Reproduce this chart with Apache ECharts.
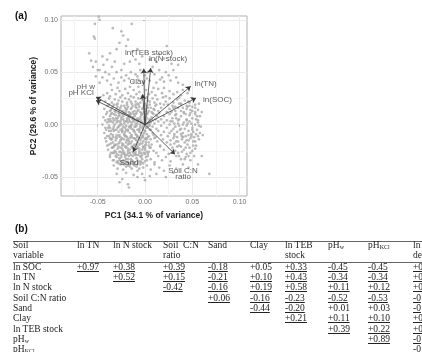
<!DOCTYPE html>
<html>
<head>
<meta charset="utf-8">
<script src="https://cdn.jsdelivr.net/npm/echarts@6/dist/echarts.min.js"></script>
<style>
  body { margin: 0; width: 422px; height: 352px; overflow: hidden; background: #fff; position: relative; }
  #chart { position: absolute; left: 0; top: 0; width: 422px; height: 220px; }
  #tbl { position: absolute; left: 0; top: 220px; width: 422px; height: 132px; overflow: hidden;
         font-family: 'Liberation Serif', 'Times New Roman', serif; font-size: 9.5px; color: #222; }
  .c { position: absolute; white-space: nowrap; line-height: 10px; }
  .u { text-decoration: underline; }
  .rule { position: absolute; left: 13px; width: 420px; height: 0; border-top: 1px solid #666; }
  .tag { position: absolute; font: bold 10px 'Liberation Sans', Arial, sans-serif; color: #111; }
  sub { font-size: 6px; vertical-align: -1px; line-height: 0; }
</style>
</head>
<body>
<div id="chart"></div>
<div id="tbl"></div>
<script>
// PC scores, in units of 0.001
const pcScores = [
  [-49,103],[-48,100],[-53,96],[-14,96],[-34,92],[-25,89],[-23,85],[-18,81],[-54,84],[-53,82],[-27,78],[-20,75],
  [-59,68],[-37,68],[-57,61],[-44,57],[23,75],[-8,72],[-13,70],[-30,72],[15,67],[-3,65],[-45,65],[-40,62],
  [-10,62],[-52,60],[-32,60],[5,62],[12,60],[-6,58],[20,63],[28,58],[35,57],[-48,52],[-55,55],[-35,55],[-22,58],[-16,60],
  [-50,52],[-42,50],[-38,48],[-30,50],[-25,52],[-20,47],[-15,50],[-10,48],[-5,52],[0,47],[3,50],[8,55],[10,48],
  [15,52],[18,45],[22,50],[25,47],[30,52],[33,45],[-45,45],[-40,42],[-33,44],[-28,40],[-22,42],[-17,44],[-12,41],
  [-7,43],[-2,40],[5,42],[12,40],[20,41],[27,42],[35,40],[40,38],[-48,40],[-36,38],[-25,45],[-8,46],[2,44],[16,43],[-52,46],
  [-40,30],[-35,33],[-31,29],[-27,32],[-24,28],[-21,34],[-18,30],[-15,27],[-12,33],[-9,29],[-6,31],[-3,27],[1,33],
  [4,29],[7,31],[11,28],[14,34],[18,30],[22,27],[26,32],[30,29],[34,31],[38,28],[-44,28],[-37,27],[-29,35],[-16,36],
  [-7,36],[9,35],[20,35],[40,33],[45,30],
  [-42,22],[-38,25],[-35,21],[-32,24],[-29,20],[-26,26],[-24,22],[-21,25],[-19,21],[-17,24],[-14,20],[-12,26],[-10,22],
  [-7,25],[-5,21],[-3,24],[0,20],[2,26],[5,22],[8,25],[10,21],[13,24],[16,20],[19,26],[22,22],[26,25],[30,21],[34,24],
  [38,20],[42,23],[47,21],[50,25],[53,19],[-28,23],[-15,22],[-8,20],[3,23],[12,19],[24,19],[36,26],[44,18],
  [-43,15],[-40,18],[-37,13],[-35,16],[-33,19],[-31,12],[-29,17],[-27,14],[-25,18],[-23,13],[-21,16],[-19,19],[-17,12],
  [-15,15],[-13,18],[-11,13],[-9,16],[-7,19],[-5,12],[-3,15],[-1,18],[1,13],[3,16],[5,19],[7,12],[9,15],[11,18],[14,13],
  [17,16],[20,19],[23,12],[26,15],[29,18],[32,13],[35,16],[38,19],[41,12],[44,15],[47,18],[50,13],[53,16],[56,14],
  [-20,14],[-10,17],[0,15],[10,14],[30,16],[45,17],
  [-44,7],[-41,10],[-39,5],[-37,8],[-35,11],[-33,4],[-31,9],[-29,6],[-27,11],[-25,5],[-23,8],[-21,10],[-19,4],[-17,7],
  [-15,10],[-13,5],[-11,8],[-9,11],[-7,4],[-5,7],[-3,10],[-1,5],[1,8],[3,11],[5,4],[7,7],[9,10],[11,5],[13,8],[15,11],
  [17,5],[20,8],[23,4],[26,10],[29,6],[32,9],[35,4],[38,8],[41,11],[44,5],[47,9],[50,6],[53,10],[56,4],[58,8],[-28,8],
  [-18,9],[-8,6],[2,6],[12,9],[33,6],[48,11],
  [-45,0],[-42,-3],[-40,2],[-38,-1],[-36,3],[-34,-4],[-32,0],[-30,2],[-28,-2],[-26,1],[-24,-4],[-22,3],[-20,-1],[-18,2],
  [-16,-3],[-14,0],[-12,3],[-10,-2],[-8,1],[-6,-4],[-4,2],[-2,-1],[0,3],[2,-3],[4,0],[6,2],[8,-2],[10,1],[12,-4],[14,3],
  [17,-1],[20,2],[23,-3],[26,0],[29,3],[32,-2],[35,1],[38,-4],[41,2],[44,-1],[47,3],[50,-3],[53,0],[56,2],[59,-2],
  [-25,0],[-15,-1],[-5,0],[5,-1],[36,-1],[45,1],
  [-43,-8],[-40,-11],[-38,-6],[-36,-9],[-34,-12],[-32,-5],[-30,-10],[-28,-7],[-26,-12],[-24,-6],[-22,-9],[-20,-11],
  [-18,-5],[-16,-8],[-14,-12],[-12,-6],[-10,-9],[-8,-11],[-6,-5],[-4,-8],[-2,-12],[0,-6],[2,-9],[4,-11],[6,-5],[8,-8],
  [11,-12],[14,-6],[17,-10],[20,-7],[24,-11],[28,-6],[31,-9],[34,-12],[37,-5],[40,-8],[43,-11],[46,-6],[49,-9],[52,-12],
  [55,-5],[58,-8],[-21,-7],[-11,-7],[-1,-8],[9,-10],[39,-11],[51,-7],
  [-41,-16],[-38,-19],[-36,-14],[-34,-17],[-32,-20],[-30,-13],[-28,-18],[-26,-15],[-24,-20],[-22,-14],[-20,-17],
  [-18,-19],[-16,-13],[-14,-16],[-12,-20],[-10,-14],[-8,-17],[-6,-19],[-4,-13],[-2,-16],[0,-20],[2,-14],[4,-17],
  [7,-19],[10,-13],[13,-16],[16,-20],[19,-14],[23,-17],[27,-19],[30,-13],[33,-16],[36,-20],[39,-14],[42,-17],[45,-19],
  [48,-13],[51,-16],[54,-20],[57,-14],[-19,-15],[-9,-15],[1,-17],[31,-18],[46,-15],
  [-39,-24],[-36,-27],[-34,-22],[-32,-25],[-30,-28],[-28,-21],[-26,-26],[-24,-23],[-22,-28],[-20,-22],[-18,-25],
  [-16,-27],[-14,-21],[-12,-24],[-10,-28],[-8,-22],[-6,-25],[-4,-27],[-2,-21],[0,-24],[3,-28],[6,-22],[9,-25],[12,-27],
  [16,-21],[20,-24],[25,-28],[29,-22],[32,-25],[35,-27],[38,-21],[41,-24],[44,-28],[47,-22],[50,-25],[53,-23],
  [-23,-25],[-13,-26],[-3,-24],
  [-37,-31],[-34,-34],[-31,-30],[-29,-35],[-27,-32],[-25,-29],[-23,-34],[-21,-31],[-19,-36],[-17,-30],[-15,-33],
  [-13,-35],[-11,-29],[-9,-32],[-7,-36],[-5,-30],[-3,-33],[0,-35],[3,-30],[6,-33],[10,-36],[14,-30],[18,-34],[22,-31],
  [27,-35],[33,-30],[38,-33],[43,-31],[48,-34],[52,-30],[-20,-33],[-8,-34],[1,-31],
  [-33,-39],[-29,-42],[-26,-38],[-23,-43],[-20,-40],[-17,-37],[-14,-42],[-11,-39],[-8,-44],[-5,-38],[-2,-41],[2,-39],
  [6,-43],[10,-38],[15,-41],[20,-44],[26,-39],[33,-42],[40,-38],[46,-41],[-16,-40],[-6,-42],
  [-30,-47],[-24,-52],[-27,-55],[-18,-57],[-17,-60],[-12,-48],[-20,-46],[-8,-50],[-3,-47],[5,-49],[0,-53],[12,-47],
  [22,-50],[30,-46],[68,-47],[56,-38],[60,-30],[57,20],[60,12],[61,-10],
  [-36,14],[-33,10],[-30,15],[-27,9],[-24,13],[-22,11],[-19,15],[-16,9],[-13,12],[-10,10],[-7,14],[-4,9],[-1,12],[2,10],
  [-37,5],[-34,2],[-31,6],[-28,3],[-25,7],[-22,1],[-19,6],[-16,3],[-13,7],[-10,1],[-7,5],[-4,3],[-1,7],[2,1],[5,5],
  [-39,-3],[-36,-6],[-33,-2],[-30,-5],[-27,-1],[-24,-7],[-21,-3],[-18,-6],[-15,-2],[-12,-5],[-9,-1],[-6,-7],[-3,-3],
  [0,-6],[3,-2],
  [-37,-13],[-34,-10],[-31,-15],[-28,-11],[-25,-14],[-22,-10],[-19,-12],[-17,-16],[-14,-10],[-11,-13],[-8,-12],
  [-5,-15],[-2,-10],[1,-13],
  [-35,-22],[-32,-19],[-29,-23],[-27,-17],[-24,-18],[-21,-21],[-18,-23],[-15,-18],[-12,-22],[-9,-19],[-6,-23],
  [-3,-18],[0,-22],[4,-20],
  [-33,-27],[-30,-31],[-27,-26],[-25,-31],[-22,-27],[-19,-29],[-16,-24],[-13,-30],[-10,-26],[-7,-29],[-4,-31],
  [-1,-27],[2,-26],
  [-28,-37],[-25,-35],[-22,-38],[-18,-39],[-15,-37],[-12,-38],[-9,-40],[-4,-36],
  [-38,19],[-34,17],[-30,19],[-26,16],[-22,18],[-18,17],[-14,16],[-10,19],[-6,17],[-2,16],[2,18],[6,16],
  [-40,12],[-36,10],[-32,13],[-28,11],[-24,10],[-20,12],[-16,11],[-12,10],[-8,13],[-4,11],[0,10],[4,13],[8,11],
  [-42,4],[-38,3],[-34,6],[-30,4],[-26,3],[-23,5],[-20,3],[-17,5],[-14,2],[-11,4],[-8,3],[-5,5],[-2,2],[1,4],[4,2],[8,4],
  [-41,-5],[-37,-3],[-33,-6],[-29,-3],[-26,-5],[-23,-2],[-20,-5],[-17,-2],[-14,-4],[-11,-2],[-8,-5],[-5,-2],[-2,-5],
  [1,-3],[5,-5],
  [-42,-13],[-38,-11],[-35,-14],[-31,-12],[-27,-10],[-24,-13],[-21,-11],[-18,-14],[-15,-11],[-12,-13],[-9,-10],
  [-6,-13],[-3,-11],[0,-14],[3,-12],[6,-14],
  [-40,-20],[-36,-18],[-33,-21],[-30,-19],[-26,-22],[-23,-19],[-20,-21],[-17,-18],[-14,-22],[-11,-19],[-8,-21],
  [-5,-18],[-2,-22],[1,-19],[5,-22],
  [-37,-29],[-34,-27],[-31,-26],[-28,-29],[-24,-27],[-21,-29],[-18,-27],[-15,-29],[-12,-27],[-9,-29],[-6,-27],
  [-3,-29],[0,-28],[4,-26],
  [-33,-34],[-30,-36],[-27,-34],[-24,-37],[-21,-35],[-18,-33],[-14,-34],[-11,-36],[-8,-38],[-5,-35],[-2,-37],[2,-34],
  [28,12],[33,10],[38,13],[43,10],[48,14],[53,12],[27,3],[31,1],[36,5],[40,0],[44,4],[49,1],[54,5],[57,-1],
  [26,-8],[30,-4],[34,-7],[38,-9],[42,-4],[46,-10],[50,-5],[54,-9],[27,-15],[31,-11],[35,-16],[40,-12],[44,-15],
  [49,-11],[53,-16],[56,-11],[29,-25],[34,-21],[39,-26],[43,-22],[48,-27],[51,-20],[36,-30],[42,-33],[46,-30],
  [32,17],[40,16],[50,17],[55,8],[46,22],[36,20]
];

// variable loadings (arrow tips) and label anchors, units of 0.001
const loadingNames = ['ln(TEB stock)', 'ln(N stock)', 'Clay', 'ln(TN)', 'ln(SOC)', 'pH w', 'pH KCl', 'Sand', 'Soil C:N\nratio'];
const loadingX = [-1.3, 6.0, -2.5, 48.3, 53.9, -51.8, -51.8, -12.4, 31.7];
const loadingY = [53.4, 54.0, 29.0, 36.5, 25.4, 26.3, 23.0, -26.0, -28.3];
const labelX = [4.2, 24.3, -7.9, 64.0, 76.6, -62.4, -67.6, -16.9, 40.2];
const labelY = [68.5, 62.3, 40.4, 39.4, 24.1, 36.5, 30.8, -36.0, -47.0];

const xTicks = [-0.05, 0, 0.05, 0.10];
const yTicks = [-0.05, 0, 0.05, 0.10];
const xMinor = [-0.075, -0.025, 0.025, 0.075];
const yMinor = [-0.025, 0.025, 0.075];

// correlation table
const colHeads = ['Soil<br>variable', 'ln TN', 'ln N stock', 'Soil&nbsp;&nbsp;C:N<br>ratio', 'Sand', 'Clay',
                  'ln TEB<br>stock', 'pH<sub>w</sub>', 'pH<sub>KCl</sub>', 'ln<br>de'];
const rowHeads = ['ln SOC', 'ln TN', 'ln N stock', 'Soil C:N ratio', 'Sand', 'Clay', 'ln TEB stock',
                  'pH<sub>w</sub>', 'pH<sub>KCl</sub>'];
const corrRows = [
  ['+0.97', '+0.38', '+0.39', '-0.18', '+0.05', '+0.33', '-0.45', '-0.45', '+0'],
  ['', '+0.52', '+0.15', '-0.21', '+0.10', '+0.43', '-0.34', '-0.34', '+0'],
  ['', '', '-0.42', '-0.16', '+0.19', '+0.58', '+0.11', '+0.12', '+0'],
  ['', '', '', '+0.06', '-0.16', '-0.23', '-0.52', '-0.53', '-0'],
  ['', '', '', '', '-0.44', '-0.20', '+0.01', '+0.03', '-0'],
  ['', '', '', '', '', '+0.21', '+0.11', '+0.10', '+0'],
  ['', '', '', '', '', '', '+0.39', '+0.22', '+0'],
  ['', '', '', '', '', '', '', '+0.89', '-0'],
  ['', '', '', '', '', '', '', '', '-0']
];
const notSignificant = ['0,4', '4,6', '4,7'];

const colLeft = [13, 77, 113, 163, 208, 250, 285, 328, 368, 413];

const FONT = "'Liberation Sans', Arial, sans-serif";

const chart = echarts.init(document.getElementById('chart'));
const option = {
  animation: false,
  grid: { left: 61, right: 175, top: 16, bottom: 24, show: true, borderColor: '#b3b3b3', borderWidth: 1,
          backgroundColor: '#fff', outerBoundsMode: 'none' },
  graphic: [{ type: 'text', left: 15, top: 11, style: { text: '(a)', font: 'bold 10px ' + FONT, fill: '#111' } }],
  xAxis: [
    {
      type: 'value', min: -0.0888, max: 0.1078,
      name: 'PC1 (34.1 % of variance)', nameLocation: 'middle', nameGap: 10,
      nameTextStyle: { fontFamily: FONT, fontWeight: 'bold', fontSize: 8.5, color: '#222' },
      axisLine: { show: false },
      axisTick: { show: true, length: 2, lineStyle: { color: '#b3b3b3' }, customValues: xTicks },
      axisLabel: { customValues: xTicks, formatter: v => v.toFixed(2), fontFamily: FONT, fontSize: 7, color: '#707070', margin: 3 },
      splitLine: { show: true, lineStyle: { color: '#ebebeb', width: 1 } }
    },
    {
      type: 'value', min: -0.0888, max: 0.1078, position: 'bottom',
      axisLine: { show: false }, axisLabel: { show: false },
      axisTick: { show: false, customValues: xMinor },
      splitLine: { show: true, lineStyle: { color: '#f5f5f5', width: 1 } }
    }
  ],
  yAxis: [
    {
      type: 'value', min: -0.0681, max: 0.1036,
      name: 'PC2 (29.6 % of variance)', nameLocation: 'middle', nameGap: 17,
      nameTextStyle: { fontFamily: FONT, fontWeight: 'bold', fontSize: 8.5, color: '#222' },
      axisLine: { show: false },
      axisTick: { show: true, length: 2, lineStyle: { color: '#b3b3b3' }, customValues: yTicks },
      axisLabel: { customValues: yTicks, formatter: v => v.toFixed(2), fontFamily: FONT, fontSize: 7, color: '#707070', margin: 3 },
      splitLine: { show: true, lineStyle: { color: '#ebebeb', width: 1 } }
    },
    {
      type: 'value', min: -0.0681, max: 0.1036, position: 'left',
      axisLine: { show: false }, axisLabel: { show: false },
      axisTick: { show: false, customValues: yMinor },
      splitLine: { show: true, lineStyle: { color: '#f5f5f5', width: 1 } }
    }
  ],
  series: [
    {
      type: 'scatter', symbolSize: 2.7, silent: true, z: 2,
      itemStyle: { color: '#aaaaaa' },
      data: pcScores.map(p => [p[0] / 1000, p[1] / 1000])
    },
    {
      type: 'lines', coordinateSystem: 'cartesian2d', z: 3, silent: true,
      symbol: ['none', 'arrow'], symbolSize: 5,
      lineStyle: { color: '#3a3a3a', width: 0.8, opacity: 1 },
      data: loadingNames.map((n, i) => ({ coords: [[0, 0], [loadingX[i] / 1000, loadingY[i] / 1000]] }))
    },
    {
      type: 'scatter', symbolSize: 1, z: 4, silent: true,
      itemStyle: { color: 'transparent' },
      label: { show: true, position: 'inside', fontFamily: FONT, fontSize: 8, color: '#333', lineHeight: 5.5 },
      data: loadingNames.map((n, i) => ({ value: [labelX[i] / 1000, labelY[i] / 1000], label: { formatter: n } }))
    }
  ]
};
chart.setOption(option);

// table (b)
const tbl = document.getElementById('tbl');
let html = '<div class="tag" style="left:15px;top:3px">(b)</div>';
html += '<div class="rule" style="top:21px"></div><div class="rule" style="top:42px"></div>';
colHeads.forEach((h, j) => {
  html += '<div class="c" style="left:' + colLeft[j] + 'px;top:20px">' + h + '</div>';
});
rowHeads.forEach((r, i) => {
  const top = 41.7 + i * 10.33;
  html += '<div class="c" style="left:' + colLeft[0] + 'px;top:' + top + 'px">' + r + '</div>';
  corrRows[i].forEach((v, j) => {
    if (!v) return;
    const cls = notSignificant.includes(i + ',' + j) ? 'c' : 'c u';
    html += '<div class="' + cls + '" style="left:' + colLeft[j + 1] + 'px;top:' + top + 'px">' + v + '</div>';
  });
});
tbl.innerHTML = html;
</script>
</body>
</html>
